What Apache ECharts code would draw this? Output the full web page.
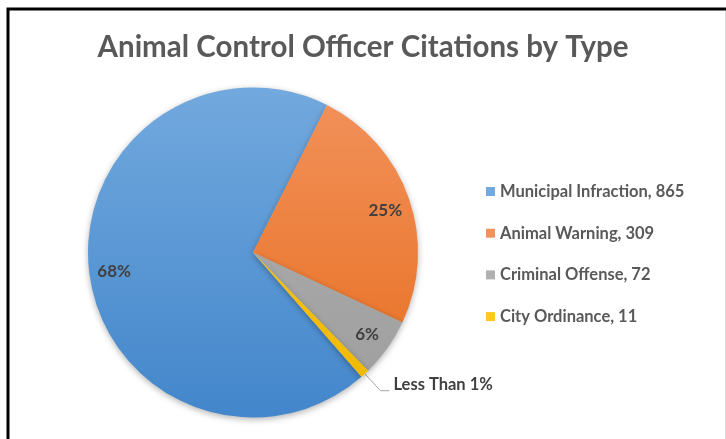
<!DOCTYPE html>
<html><head><meta charset="utf-8">
<script src="https://cdn.jsdelivr.net/npm/echarts@6/dist/echarts.min.js"></script>
<style>html,body{margin:0;padding:0;background:#fff;overflow:hidden}#c{width:726px;height:439px}</style>
</head><body><div id="c"></div>
<script>
const titleText = 'Animal Control Officer Citations by Type';
const categories = ['Municipal Infraction', 'Animal Warning', 'Criminal Offense', 'City Ordinance'];
const values = [865, 309, 72, 11];
const sliceLabels = ['68%', '25%', '6%', 'Less Than 1%'];

const FONT = 'Lato';
function grad(top, bottom) {
  return new echarts.graphic.LinearGradient(0, 88, 0, 417, [
    { offset: 0, color: top }, { offset: 1, color: bottom }
  ], true);
}
const colors = [
  grad('#72a9de', '#4386cb'),
  grad('#f2925c', '#e76d1d'),
  grad('#b0b0b0', '#9e9e9e'),
  grad('#ffc820', '#eeb800')
];
const legendColors = ['#5b9bd5', '#ed7d31', '#a5a5a5', '#ffc000'];

const CENTER = [253, 252.5];
const R = 165;
const START = 311.1;

const mainData = categories.map((n, i) => ({
  name: n, value: values[i],
  itemStyle: { color: colors[i] },
  label: { show: i === 3, formatter: sliceLabels[i] + '\n{gap|}' },
  labelLine: { show: i === 3 }
}));
const labelData = categories.map((n, i) => ({
  name: n, value: values[i],
  label: { show: i !== 3, formatter: sliceLabels[i], offset: [0, i === 1 ? 4 : 1] }
}));

const chart = echarts.init(document.getElementById('c'), null, { renderer: 'canvas' });
chart.setOption({
  backgroundColor: '#ffffff',
  animation: false,
  color: legendColors,
  title: {
    text: titleText, left: 'center', top: 27,
    textStyle: { fontFamily: FONT, fontSize: 29.5, fontWeight: 'bold', color: '#595959' }
  },
  legend: {
    orient: 'vertical', left: 481, top: 178,
    data: categories,
    itemWidth: 9, itemHeight: 9, itemGap: 24.7,
    icon: 'rect',
    formatter: function (name) { return name + ', ' + values[categories.indexOf(name)]; },
    textStyle: { fontFamily: FONT, fontSize: 16.5, fontWeight: 'bold', color: '#595959' }
  },
  graphic: [{
    type: 'rect', silent: true, z: 100,
    shape: { x: 8, y: 9, width: 760, height: 460 },
    style: { fill: 'none', stroke: '#000', lineWidth: 3 }
  }, {
    type: 'line', silent: true, z: 100,
    shape: { x1: 725.5, y1: 11, x2: 725.5, y2: 439 },
    style: { stroke: '#d9d9d9', lineWidth: 1 }
  }],
  series: [{
    type: 'pie', center: CENTER, radius: R, startAngle: START, clockwise: true,
    avoidLabelOverlap: false, silent: true,
    itemStyle: { shadowBlur: 6, shadowColor: 'rgba(0,0,0,0.3)', shadowOffsetY: 2 },
    emphasis: { disabled: true },
    label: {
      position: 'outside', fontFamily: FONT, fontSize: 16.5, fontWeight: 'bold', color: '#404040',
      distanceToLabelLine: 4, lineHeight: 18,
      rich: { gap: { height: 12, lineHeight: 12, fontSize: 1 } }
    },
    labelLine: { length: 23, length2: 9, smooth: false, lineStyle: { color: '#a6a6a6', width: 1 } },
    data: mainData
  }, {
    type: 'pie', center: CENTER, radius: [109, R], startAngle: START, clockwise: true,
    avoidLabelOverlap: false, silent: true,
    itemStyle: { color: 'rgba(0,0,0,0)' },
    emphasis: { disabled: true },
    label: { position: 'inside', fontFamily: FONT, fontSize: 17, fontWeight: 'bold', color: '#404040' },
    labelLine: { show: false },
    data: labelData
  }]
});
</script></body></html>
